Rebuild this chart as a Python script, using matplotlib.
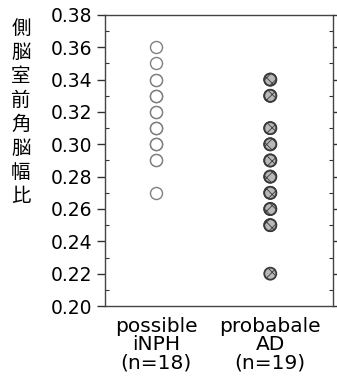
import matplotlib.pyplot as plt
import numpy as np
from matplotlib.ticker import MultipleLocator

# groups and their values (overlapping points repeat)
groups = ["possible\niNPH\n(n=18)", "probabale\nAD\n(n=19)"]
inph = [0.36, 0.35, 0.34, 0.34, 0.33, 0.33, 0.33, 0.32, 0.32,
        0.31, 0.31, 0.31, 0.30, 0.30, 0.30, 0.29, 0.29, 0.27]
ad = [0.34, 0.34, 0.33, 0.33, 0.31, 0.31, 0.30, 0.30, 0.29, 0.29,
      0.28, 0.28, 0.27, 0.27, 0.26, 0.26, 0.25, 0.25, 0.22]
ylabel = "側脳室前角脳幅比"

plt.rcParams['hatch.linewidth'] = 0.6

fig = plt.figure(figsize=(3.37, 3.83), dpi=100)
ax = fig.add_axes([0.3116, 0.201, 0.6764, 0.760])

ax.scatter(np.zeros(len(inph)), inph, s=75, facecolors="white",
           edgecolors="#808080", linewidths=1.0, zorder=3)
ax.scatter(np.ones(len(ad)), ad, s=75, facecolors="#b8b8b8",
           edgecolors="#3a3a3a", linewidths=1.3, hatch="xxx", zorder=3)

ax.set_xlim(-0.45, 1.55)
ax.set_ylim(0.20, 0.38)
ax.set_xticks([0, 1])
ax.set_xticklabels(groups, fontsize=14.5, linespacing=0.95)
ax.tick_params(axis="x", length=0, pad=8)

ax.yaxis.set_major_locator(MultipleLocator(0.02))
ax.yaxis.set_minor_locator(MultipleLocator(0.01))
ax.yaxis.set_major_formatter(plt.FormatStrFormatter("%.2f"))
ax.tick_params(axis="y", which="major", direction="out", length=6,
               width=1, labelsize=13.5, pad=3, right=True)
ax.tick_params(axis="y", which="minor", direction="in", length=3,
               width=0.8, right=True)
ax.tick_params(axis="y", which="both", colors="#333333", labelcolor="black")

for sp in ax.spines.values():
    sp.set_color("#444444")
    sp.set_linewidth(1.0)

# vertical Japanese label, one character per line
for k, ch in enumerate(ylabel):
    fig.text(21 / 337, 1 - (28 + k * 24.1) / 383, ch, ha="center", va="center",
             fontsize=14, family=["Noto Sans CJK JP", "DejaVu Sans"])

fig.savefig("out.png", dpi=100)
